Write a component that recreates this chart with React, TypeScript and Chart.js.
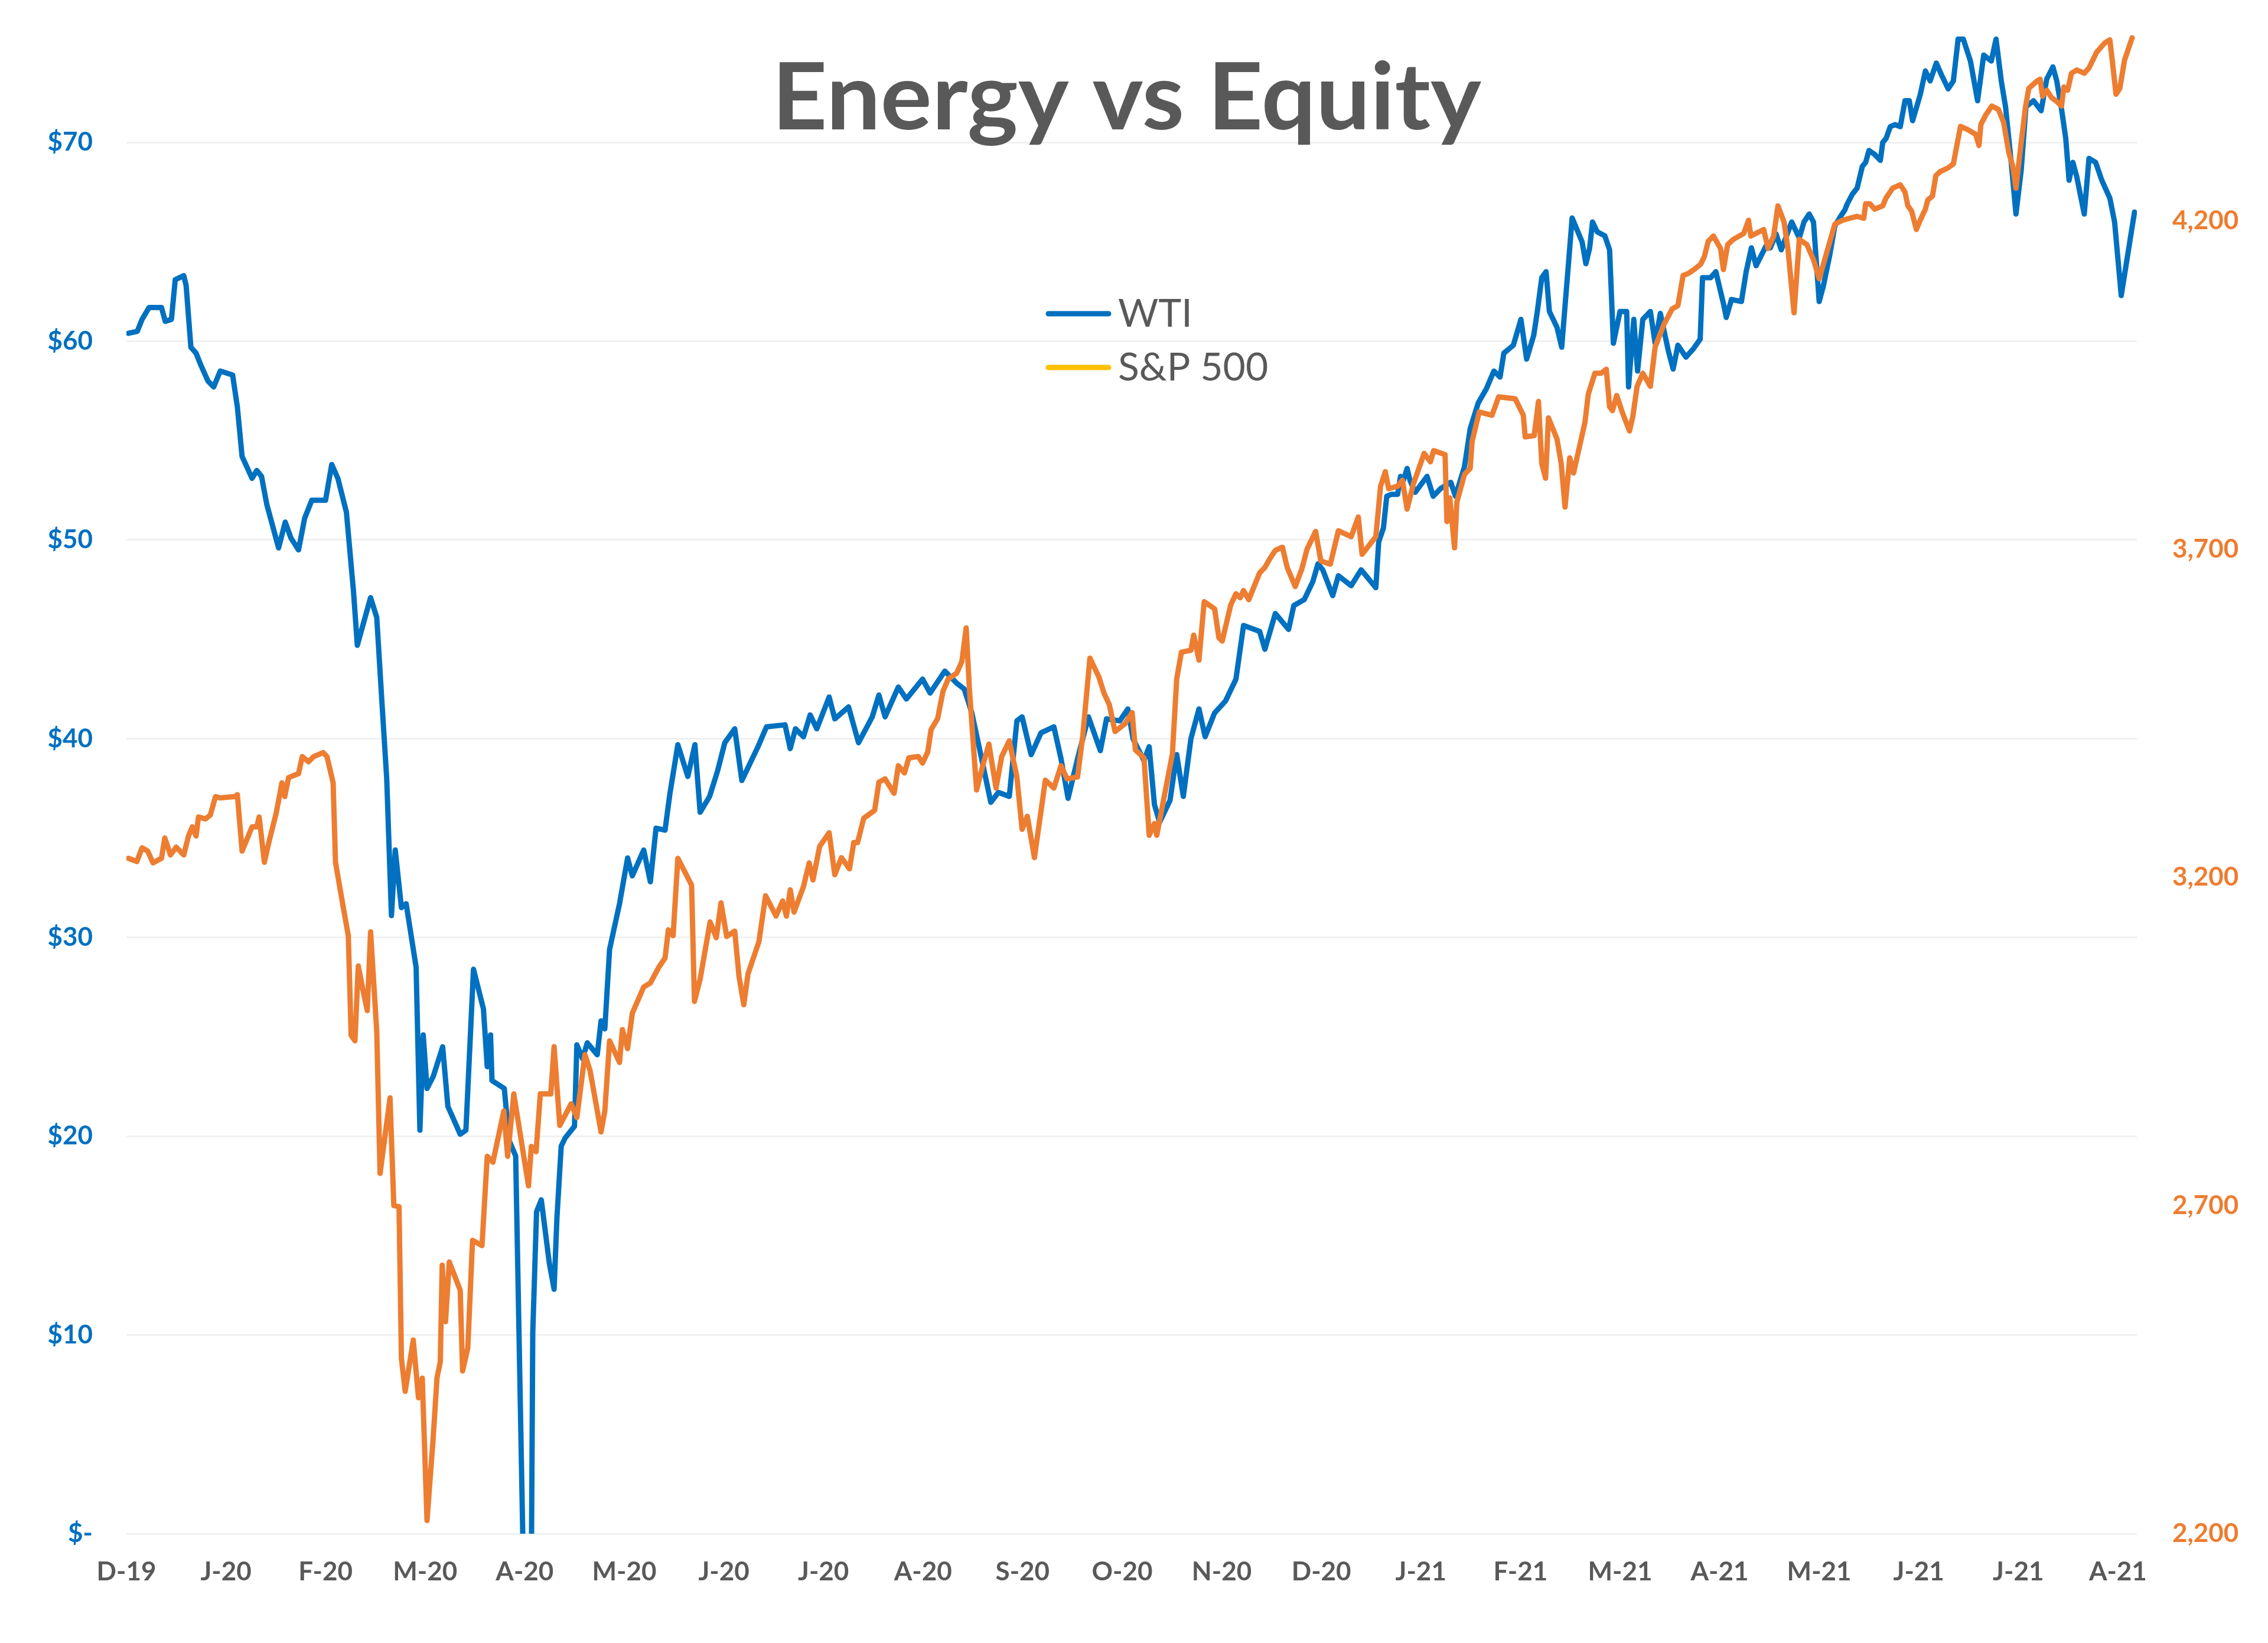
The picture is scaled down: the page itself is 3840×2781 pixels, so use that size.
import React, { useEffect, useRef } from "react";
import { Chart, registerables } from "chart.js";

Chart.register(...registerables);

// ---------- data ----------
const titleText = "Energy vs Equity";
const monthLabels = [
  "D-19", "J-20", "F-20", "M-20", "A-20", "M-20", "J-20", "J-20", "A-20", "S-20", "O-20",
  "N-20", "D-20", "J-21", "F-21", "M-21", "A-21", "M-21", "J-21", "J-21", "A-21",
];
const daysPerLabel = 21;
const lastDay = 424;

const wtiTicks = [0, 10, 20, 30, 40, 50, 60, 70];
const spxTicks = [2200, 2700, 3200, 3700, 4200];
const wtiMax = 77.17;
const spxMin = 2200;
const spxMax = 4536.6;

const wtiDay = [
  0.4, 2.3, 3.3, 4.8, 7.4, 8.2, 9.5, 10.3, 12.1, 12.6, 13.6, 14.7, 15.7, 17.2, 18.4, 19.8, 22.4, 23.4, 24.4, 26.5,
  27.5, 28.5, 29.6, 32.1, 33.5, 34.7, 36.3, 37.6, 39.1, 42.0, 43.3, 44.6, 46.4, 47.9, 48.7, 51.5, 52.8, 53.9, 54.9, 55.9,
  56.7, 58.0, 59.0, 61.1, 61.9, 62.6, 63.4, 64.7, 66.7, 67.8, 70.4, 71.6, 73.2, 75.3, 76.1, 76.8, 77.1, 79.7, 80.7, 82.1,
  85.0, 85.7, 86.5, 87.5, 89.2, 90.2, 90.8, 91.7, 92.5, 94.5, 95.0, 96.2, 97.2, 99.3, 100.1, 100.9, 101.9, 104.0, 105.7, 106.7,
  109.1, 110.5, 111.7, 113.6, 114.6, 116.3, 118.4, 119.9, 121.0, 123.0, 124.7, 126.2, 128.3, 129.8, 133.2, 135.0, 138.9, 140.0, 141.1, 142.8,
  144.2, 145.6, 148.2, 149.4, 152.3, 154.4, 157.3, 158.7, 160.0, 162.8, 164.5, 167.9, 169.5, 172.6, 175.1, 176.7, 178.3, 180.0, 182.3, 183.9,
  186.2, 187.8, 188.9, 190.8, 192.9, 195.6, 197.1, 198.6, 200.6, 202.9, 205.4, 206.7, 209.5, 211.2, 212.3, 214.6, 215.7, 216.8, 217.9, 220.1,
  221.5, 222.9, 224.5, 226.2, 227.5, 229.5, 231.8, 234.0, 235.6, 239.0, 240.1, 242.3, 245.1, 246.2, 248.4, 250.2, 251.3, 252.3, 254.4, 255.6,
  258.3, 260.4, 263.5, 264.1, 265.1, 265.8, 266.8, 268.1, 268.7, 269.3, 270.1, 270.7, 271.8, 274.3, 275.6, 277.2, 279.3, 280.3, 282.2, 283.4,
  285.1, 286.8, 288.4, 289.7, 290.5, 292.5, 294.1, 295.3, 296.8, 297.5, 298.5, 299.4, 300.1, 301.7, 302.7, 304.9, 307.0, 307.8, 308.6, 309.2,
  310.2, 311.8, 312.8, 313.6, 315.0, 316.4, 316.8, 317.9, 318.7, 319.8, 321.4, 322.4, 323.5, 325.2, 326.2, 327.2, 328.9, 330.4, 331.9, 332.4,
  334.1, 335.2, 336.9, 337.4, 338.5, 340.6, 341.6, 342.7, 343.7, 345.8, 346.7, 347.9, 349.0, 351.2, 352.8, 353.8, 354.9, 355.8, 357.0, 357.9,
  359.2, 360.3, 361.3, 362.4, 362.9, 364.0, 365.0, 366.1, 366.8, 367.5, 368.7, 369.9, 370.4, 371.1, 372.0, 373.0, 374.1, 375.1, 376.0, 376.7,
  378.3, 379.4, 380.4, 381.7, 382.8, 384.2, 385.3, 386.3, 387.4, 388.9, 390.4, 391.7, 393.3, 394.3, 395.4, 396.3, 397.5, 398.5, 399.6, 400.6,
  402.2, 403.8, 405.0, 406.3, 407.1, 408.1, 409.0, 409.7, 410.5, 411.3, 412.9, 413.9, 415.3, 416.6, 418.3, 419.3, 420.7, 421.9, 423.5,
];
const wtiPrice = [
  60.4, 60.5, 61.1, 61.7, 61.7, 61.0, 61.1, 63.1, 63.3, 62.8, 59.7, 59.4, 58.8, 58.0, 57.7, 58.5, 58.3, 56.7, 54.2, 53.1,
  53.5, 53.2, 51.8, 49.6, 50.9, 50.1, 49.5, 51.1, 52.0, 52.0, 53.8, 53.1, 51.4, 47.4, 44.7, 47.1, 46.1, 41.8, 38.0, 31.1,
  34.4, 31.5, 31.7, 28.5, 20.3, 25.1, 22.4, 23.0, 24.5, 21.5, 20.1, 20.3, 28.4, 26.4, 23.5, 25.1, 22.8, 22.4, 19.8, 19.0,
  -18.0, 10.1, 16.2, 16.8, 13.6, 12.3, 15.9, 19.5, 19.9, 20.5, 24.6, 23.9, 24.7, 24.1, 25.8, 25.4, 29.4, 31.7, 34.0, 33.1,
  34.4, 32.8, 35.5, 35.4, 37.2, 39.7, 38.1, 39.7, 36.3, 37.1, 38.4, 39.8, 40.5, 37.9, 39.6, 40.6, 40.7, 39.5, 40.5, 40.1,
  41.2, 40.5, 42.1, 41.0, 41.6, 39.8, 41.1, 42.2, 41.1, 42.6, 42.0, 43.0, 42.3, 43.4, 42.8, 42.5, 41.3, 39.4, 36.8, 37.3,
  37.1, 40.9, 41.1, 39.2, 40.3, 40.6, 39.0, 37.0, 39.0, 41.1, 39.4, 41.0, 40.9, 41.5, 40.0, 38.9, 39.6, 36.7, 35.8, 36.9,
  39.2, 37.1, 40.0, 41.5, 40.1, 41.3, 41.9, 43.0, 45.7, 45.4, 44.5, 46.3, 45.5, 46.7, 47.0, 47.9, 48.8, 48.5, 47.2, 48.2,
  47.7, 48.5, 47.6, 49.9, 50.6, 52.2, 52.3, 52.3, 53.2, 53.0, 53.6, 53.0, 52.4, 53.2, 52.2, 52.6, 52.9, 52.2, 53.7, 55.6,
  56.9, 57.6, 58.5, 58.2, 59.4, 59.8, 61.1, 59.1, 60.3, 61.4, 63.2, 63.5, 61.5, 60.7, 59.7, 66.2, 65.0, 63.9, 64.7, 66.0,
  65.5, 65.3, 64.6, 59.9, 61.5, 61.5, 57.7, 61.1, 58.5, 61.1, 61.5, 59.9, 61.4, 59.5, 58.6, 59.8, 59.2, 59.6, 60.1, 63.2,
  63.2, 63.5, 61.8, 61.2, 62.1, 62.0, 63.5, 64.7, 63.8, 64.8, 64.7, 65.4, 64.6, 66.0, 65.2, 66.0, 66.4, 66.0, 62.0, 62.8,
  64.3, 65.8, 66.2, 66.6, 66.9, 67.4, 67.7, 68.8, 69.0, 69.6, 69.4, 69.1, 70.0, 70.2, 70.8, 70.9, 70.8, 72.1, 72.1, 71.1,
  72.4, 73.6, 73.1, 74.0, 73.4, 72.7, 73.1, 75.2, 75.2, 74.1, 72.1, 74.4, 74.1, 75.2, 73.1, 71.8, 69.0, 66.4, 68.6, 71.8,
  72.1, 71.6, 73.2, 73.8, 73.1, 71.7, 70.2, 68.1, 69.0, 68.3, 66.4, 69.2, 69.0, 68.1, 67.2, 66.0, 62.3, 64.1, 66.5,
];

const spxDay = [
  0.4, 2.2, 3.3, 4.5, 5.6, 7.4, 8.1, 9.3, 10.5, 12.1, 13.1, 13.9, 14.7, 15.2, 16.7, 17.7, 18.8, 19.8, 22.9, 23.4,
  24.4, 26.5, 27.5, 28.0, 29.1, 30.1, 31.6, 32.8, 33.4, 34.2, 36.3, 37.1, 38.4, 39.5, 41.5, 42.3, 43.6, 44.1, 45.6, 46.8,
  47.4, 48.2, 48.9, 49.9, 50.8, 51.5, 52.8, 53.5, 55.6, 56.4, 57.5, 58.0, 58.8, 60.5, 61.6, 62.4, 63.4, 64.7, 65.5, 66.2,
  66.6, 67.3, 68.1, 70.4, 70.9, 72.0, 73.0, 75.0, 76.1, 77.3, 79.6, 80.4, 81.7, 84.8, 85.4, 86.4, 87.3, 89.5, 90.2, 91.4,
  93.8, 95.0, 96.7, 97.8, 100.1, 100.9, 101.9, 104.0, 104.6, 105.7, 106.7, 109.1, 110.5, 112.2, 113.6, 114.3, 115.3, 116.3, 119.2, 119.8,
  121.0, 123.1, 124.4, 125.4, 126.6, 128.3, 129.2, 130.2, 131.1, 133.4, 134.8, 137.0, 138.4, 139.2, 140.0, 140.8, 142.8, 144.0, 144.8, 146.2,
  148.2, 149.4, 150.8, 152.5, 153.4, 154.2, 155.5, 157.8, 158.7, 160.0, 161.9, 162.8, 164.1, 165.0, 167.0, 167.9, 169.0, 169.7, 171.1, 172.2,
  173.3, 175.1, 176.2, 177.1, 177.8, 179.3, 180.6, 181.9, 183.4, 184.6, 186.2, 187.8, 188.9, 190.0, 191.5, 193.8, 195.6, 197.1, 198.4, 200.6,
  201.7, 203.2, 205.1, 206.2, 207.3, 208.5, 210.6, 212.1, 212.8, 214.6, 215.7, 216.8, 217.3, 218.9, 220.6, 221.5, 222.5, 224.5, 225.1, 226.2,
  227.3, 229.5, 230.4, 231.1, 232.9, 234.0, 234.9, 235.6, 236.7, 239.0, 240.1, 241.2, 242.3, 243.8, 244.8, 246.5, 247.9, 249.0, 250.8, 251.9,
  253.9, 255.6, 258.3, 259.8, 260.6, 263.5, 264.5, 265.5, 266.2, 268.1, 269.1, 270.1, 271.4, 273.7, 275.0, 275.7, 278.1, 278.5, 279.1, 280.1,
  280.6, 282.2, 283.4, 283.8, 285.3, 288.0, 289.4, 292.9, 294.6, 295.0, 296.9, 297.8, 298.5, 299.3, 299.9, 301.7, 302.6, 303.4, 304.4, 305.2,
  307.6, 308.3, 309.7, 311.0, 312.1, 312.8, 313.4, 314.3, 315.5, 317.0, 317.7, 318.6, 319.8, 321.4, 322.4, 324.3, 326.0, 327.2, 328.3, 329.4,
  330.6, 332.0, 332.8, 333.6, 334.7, 336.2, 336.8, 337.7, 338.9, 341.1, 342.1, 342.6, 343.7, 345.3, 346.2, 347.4, 348.3, 349.6, 350.4, 351.7,
  352.8, 354.4, 355.8, 357.0, 358.6, 360.3, 361.9, 363.4, 365.0, 366.4, 366.8, 367.7, 368.7, 370.4, 371.1, 372.5, 374.1, 375.1, 375.7, 376.5,
  377.5, 378.3, 379.4, 379.9, 380.9, 381.6, 382.5, 384.2, 385.3, 386.8, 388.4, 390.0, 390.7, 391.1, 392.1, 393.4, 394.8, 395.9, 397.0, 397.8,
  398.5, 399.4, 400.5, 401.2, 402.9, 403.6, 404.1, 405.0, 406.0, 407.1, 408.1, 408.6, 409.4, 410.2, 411.3, 412.9, 413.9, 415.5, 417.2, 418.3,
  418.8, 419.6, 420.4, 421.4, 423.0,
];
const spxLevel = [
  3229, 3224, 3245, 3240, 3222, 3229, 3260, 3234, 3246, 3234, 3263, 3277, 3263, 3292, 3289, 3295, 3323, 3321, 3323, 3326,
  3240, 3277, 3277, 3292, 3223, 3255, 3298, 3344, 3323, 3352, 3358, 3384, 3376, 3384, 3390, 3384, 3344, 3223, 3160, 3111,
  2959, 2951, 3065, 3028, 2997, 3117, 2965, 2749, 2864, 2700, 2698, 2467, 2417, 2495, 2407, 2437, 2220, 2346, 2437, 2462,
  2609, 2523, 2614, 2571, 2448, 2483, 2647, 2639, 2775, 2766, 2844, 2775, 2870, 2730, 2790, 2782, 2870, 2870, 2942, 2822,
  2855, 2834, 2930, 2905, 2812, 2844, 2951, 2918, 2968, 2939, 2993, 3033, 3039, 3062, 3077, 3120, 3111, 3229, 3188, 3011,
  3045, 3132, 3108, 3161, 3110, 3118, 3049, 3006, 3053, 3102, 3172, 3141, 3164, 3141, 3181, 3147, 3186, 3222, 3196, 3247,
  3268, 3204, 3230, 3213, 3253, 3253, 3290, 3302, 3345, 3350, 3328, 3370, 3359, 3382, 3384, 3374, 3391, 3425, 3442, 3483,
  3502, 3511, 3529, 3580, 3485, 3333, 3370, 3403, 3336, 3384, 3408, 3353, 3273, 3293, 3230, 3348, 3336, 3370, 3350, 3353,
  3416, 3534, 3505, 3480, 3463, 3422, 3434, 3451, 3394, 3382, 3264, 3282, 3264, 3324, 3388, 3502, 3543, 3546, 3569, 3531,
  3620, 3609, 3565, 3560, 3615, 3632, 3626, 3637, 3623, 3664, 3672, 3686, 3698, 3703, 3672, 3643, 3670, 3700, 3727, 3682,
  3677, 3728, 3719, 3749, 3692, 3719, 3796, 3818, 3792, 3796, 3805, 3761, 3799, 3846, 3833, 3850, 3844, 3742, 3778, 3702,
  3772, 3814, 3823, 3864, 3909, 3904, 3932, 3929, 3904, 3871, 3873, 3925, 3830, 3808, 3900, 3868, 3830, 3764, 3839, 3816,
  3893, 3936, 3968, 3968, 3974, 3917, 3911, 3934, 3908, 3880, 3902, 3948, 3968, 3948, 4008, 4043, 4066, 4071, 4117, 4120,
  4126, 4134, 4146, 4169, 4177, 4158, 4126, 4164, 4172, 4181, 4201, 4177, 4181, 4187, 4158, 4177, 4223, 4198, 4158, 4060,
  4172, 4164, 4141, 4112, 4152, 4195, 4201, 4204, 4207, 4204, 4226, 4226, 4218, 4223, 4235, 4250, 4255, 4244, 4223, 4215,
  4187, 4201, 4218, 4232, 4238, 4269, 4275, 4281, 4287, 4344, 4339, 4332, 4315, 4347, 4361, 4375, 4370, 4350, 4304, 4284,
  4250, 4307, 4373, 4402, 4413, 4416, 4390, 4399, 4388, 4382, 4375, 4404, 4399, 4425, 4430, 4425, 4433, 4457, 4471, 4476,
  4445, 4393, 4402, 4445, 4479,
];

const legendItems = [
  { label: "WTI", color: "#0070C0" },
  { label: "S&P 500", color: "#FFC000" },
];

// ---------- styles ----------
const W = 3840;
const H = 2781;
const BLUE = "#0070C0";
const ORANGE = "#ED7D31";
const GREY_TEXT = "#595959";
const FONT = "Lato, 'Open Sans', sans-serif";

const overlayPlugin = {
  id: "overlay",
  afterDraw(chart: any) {
    const ctx = chart.ctx as CanvasRenderingContext2D;
    ctx.save();
    // title
    ctx.fillStyle = GREY_TEXT;
    ctx.textBaseline = "alphabetic";
    ctx.textAlign = "left";
    ctx.font = `bold 158px ${FONT}`;
    const tw = ctx.measureText(titleText).width;
    const targetW = 1201;
    ctx.save();
    ctx.translate(1307, 219);
    ctx.scale(targetW / tw, 1);
    ctx.fillText(titleText, 0, 0);
    ctx.restore();

    // legend
    const rows = [531, 622];
    legendItems.forEach((item, i) => {
      const y = rows[i];
      ctx.strokeStyle = item.color;
      ctx.lineWidth = 9;
      ctx.lineCap = "round";
      ctx.beginPath();
      ctx.moveTo(1775, y);
      ctx.lineTo(1877, y);
      ctx.stroke();
      ctx.fillStyle = GREY_TEXT;
      ctx.font = `66px ${FONT}`;
      ctx.textBaseline = "middle";
      ctx.fillText(item.label, 1893, y + 1);
    });
    ctx.restore();
  },
};

export default function App() {
  const canvasRef = useRef<HTMLCanvasElement | null>(null);

  useEffect(() => {
    document.body.style.margin = "0";
    const canvas = canvasRef.current;
    if (!canvas) return;

    const tickFont = { family: FONT, size: 44, weight: "bold" as const };

    const chart = new Chart(canvas, {
      type: "line",
      data: {
        datasets: [
          {
            label: "S&P 500",
            data: spxDay.map((d, i) => ({ x: d, y: spxLevel[i] })),
            yAxisID: "y1",
            borderColor: ORANGE,
            backgroundColor: ORANGE,
            borderWidth: 9,
            pointRadius: 0,
            tension: 0,
            borderJoinStyle: "round",
            borderCapStyle: "round",
            order: 0,
          },
          {
            label: "WTI",
            data: wtiDay.map((d, i) => ({ x: d, y: wtiPrice[i] })),
            yAxisID: "y",
            borderColor: BLUE,
            backgroundColor: BLUE,
            borderWidth: 9,
            pointRadius: 0,
            tension: 0,
            borderJoinStyle: "round",
            borderCapStyle: "round",
            order: 1,
          },
        ],
      },
      options: {
        responsive: false,
        maintainAspectRatio: false,
        animation: false,
        events: [],
        layout: { padding: 0 },
        plugins: {
          legend: { display: false },
          tooltip: { enabled: false },
          title: { display: false },
        },
        scales: {
          x: {
            type: "linear",
            min: 0,
            max: lastDay,
            afterBuildTicks: (scale: any) => {
              scale.ticks = monthLabels.map((_, i) => ({ value: i * daysPerLabel }));
            },
            afterFit: (scale: any) => {
              scale.height = H - 2596;
              scale.paddingLeft = 0;
              scale.paddingRight = 0;
            },
            ticks: {
              autoSkip: false,
              maxRotation: 0,
              minRotation: 0,
              padding: 38,
              color: GREY_TEXT,
              font: tickFont,
              callback: (v: any) => monthLabels[Math.round(Number(v) / daysPerLabel)] ?? "",
            },
            grid: { display: false, drawTicks: false },
            border: { display: false },
          },
          y: {
            type: "linear",
            position: "left",
            min: 0,
            max: wtiMax,
            afterBuildTicks: (scale: any) => {
              scale.ticks = wtiTicks.map((v) => ({ value: v }));
            },
            afterFit: (scale: any) => {
              scale.width = 214;
              scale.paddingTop = 0;
              scale.paddingBottom = 0;
            },
            ticks: {
              padding: 57,
              color: BLUE,
              font: tickFont,
              callback: (v: any) => (Number(v) === 0 ? "$-" : "$" + v),
            },
            grid: { color: "#F0F0F0", lineWidth: 3, drawTicks: false },
            border: { display: false },
          },
          y1: {
            type: "linear",
            position: "right",
            min: spxMin,
            max: spxMax,
            afterBuildTicks: (scale: any) => {
              scale.ticks = spxTicks.map((v) => ({ value: v }));
            },
            afterFit: (scale: any) => {
              scale.width = W - 3618;
              scale.paddingTop = 0;
              scale.paddingBottom = 0;
            },
            ticks: {
              padding: 60,
              color: ORANGE,
              font: tickFont,
              callback: (v: any) => Number(v).toLocaleString("en-US"),
            },
            grid: { display: false, drawTicks: false },
            border: { display: false },
          },
        },
      },
      plugins: [overlayPlugin],
    });

    return () => {
      chart.destroy();
    };
  }, []);

  return (
    <div style={{ width: W, height: H, position: "relative", background: "#FFFFFF" }}>
      <canvas ref={canvasRef} width={W} height={H} style={{ display: "block", width: W, height: H }} />
    </div>
  );
}
